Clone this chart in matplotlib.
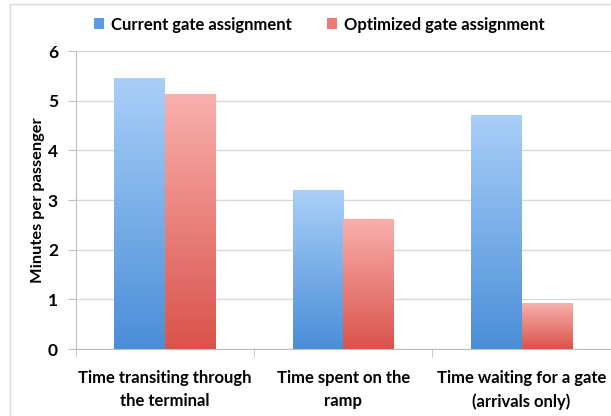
import numpy as np
import matplotlib.pyplot as plt
from matplotlib.colors import LinearSegmentedColormap
from matplotlib.patches import Rectangle

# Data
categories = ["Time transiting through\nthe terminal", "Time spent on the\nramp",
              "Time waiting for a gate\n(arrivals only)"]
series_names = ["Current gate assignment", "Optimized gate assignment"]
current = [5.45, 3.2, 4.72]
optimized = [5.13, 2.62, 0.92]

plt.rcParams['font.family'] = ['Lato', 'DejaVu Sans']
plt.rcParams['font.weight'] = 'bold'

fig = plt.figure(figsize=(6.11, 4.16), dpi=100)
ax = fig.add_axes([0.1244, 0.161, 0.875, 0.716])

# outer chart frame
fig.patches.append(Rectangle((10 / 611, -0.05), 1.2, 1.04, transform=fig.transFigure,
                             fill=False, edgecolor='#d9d9d9', linewidth=1.0))

blue_cmap = LinearSegmentedColormap.from_list('b', ['#4a8ed8', '#a9cff8'])
red_cmap = LinearSegmentedColormap.from_list('r', ['#d9534b', '#f9b0ad'])
grad = np.linspace(0, 1, 256).reshape(-1, 1)

x = np.arange(len(categories))
width = 0.285

for vals, offset, cmap, name, col in [(current, -width / 2, blue_cmap, series_names[0], '#5b9be0'),
                                      (optimized, width / 2, red_cmap, series_names[1], '#ec7a73')]:
    bars = ax.bar(x + offset, vals, width, color=col, label=name, zorder=2)
    for b in bars:
        bx, by = b.get_x(), b.get_y()
        bw, bh = b.get_width(), b.get_height()
        im = ax.imshow(grad, cmap=cmap, origin='lower', aspect='auto',
                       extent=[bx, bx + bw, by, by + bh], zorder=3)
        im.set_clip_path(b)

ax.set_xlim(-0.5, 2.5)
ax.set_ylim(0, 6)
ax.set_yticks(range(7))
ax.yaxis.grid(True, color='#d9d9d9', linewidth=1.0, zorder=0)
ax.set_axisbelow(True)

ax.set_xticks(x)
ax.set_xticklabels(categories, fontsize=12, fontweight='bold', linespacing=1.55)
ax.tick_params(axis='x', length=0, pad=15)
ax.set_xticks([-0.5, 0.5, 1.5, 2.5], minor=True)
ax.tick_params(axis='x', which='minor', length=6, color='#bfbfbf', direction='out')
ax.tick_params(axis='y', length=6, color='#bfbfbf', labelsize=12.5, pad=7)
for lab in ax.get_yticklabels():
    lab.set_fontweight('bold')

for s in ['top', 'right']:
    ax.spines[s].set_visible(False)
ax.spines['left'].set_color('#bfbfbf')
ax.spines['bottom'].set_color('#bfbfbf')

ax.set_ylabel("Minutes per passenger", fontsize=11.8, fontweight='bold', labelpad=2)

ax.legend(loc='lower left', bbox_to_anchor=(0.022, 1.04), ncol=2, frameon=False,
          fontsize=12, handlelength=0.6, handleheight=0.6, handletextpad=0.4,
          columnspacing=2.1, borderaxespad=0)

fig.savefig('out.png', dpi=100)
